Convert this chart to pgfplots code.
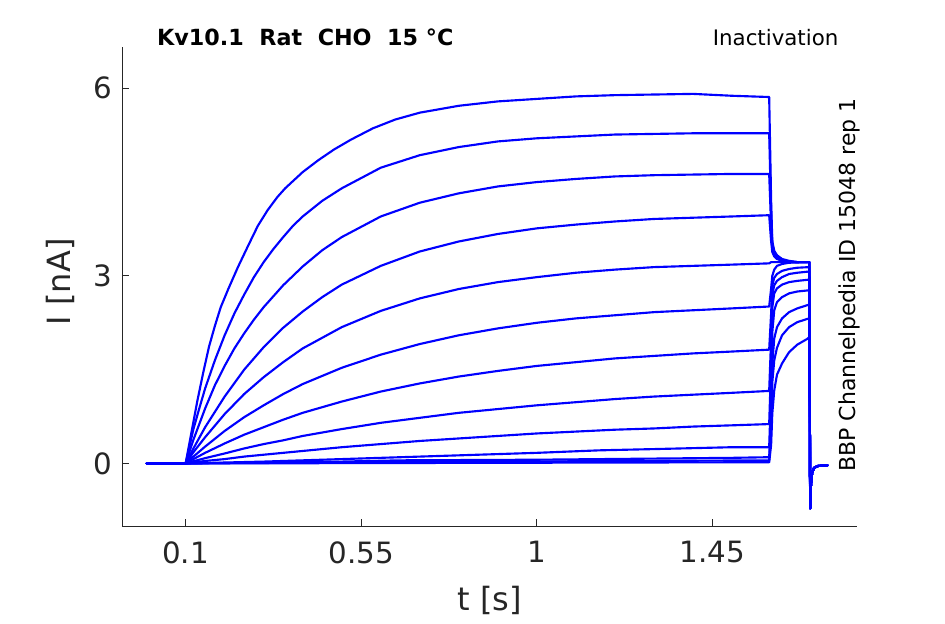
\documentclass[border=0pt]{standalone}
\usepackage{fontspec}
\setmainfont{DejaVu Sans}
\usepackage{pgfplots}
\pgfplotsset{compat=1.18}
\definecolor{axgray}{RGB}{38,38,38}
\tikzset{tr/.style={color=blue, solid, line width=1.6pt, line join=round, line cap=round, mark=none}}
\begin{document}
\begin{tikzpicture}[x=1pt,y=1pt]
\begin{axis}[
  name=ax,
  scale only axis,
  width=551.25pt, height=359.25pt,
  xmin=-0.063, xmax=1.82, ymin=-1, ymax=6.66,
  axis lines*=left,
  axis line style={axgray, line width=0.7pt},
  tick style={axgray, line width=0.7pt},
  tick align=inside,
  major tick length=5.25pt,
  xtick={0.1,0.55,1,1.45}, xticklabels={0.1,0.55,1,1.45},
  ytick={0,3,6}, yticklabels={0,3,6},
  /pgf/number format/assume math mode=true,
  ticklabel style={font=\fontsize{22}{26}\selectfont, text=axgray},
  xticklabel style={yshift=-8pt},
  yticklabel style={xshift=-4pt},
  clip=false,
]
% trace 1
\addplot[tr] coordinates {(0,0) (0.1,0) (0.115,0.5) (0.13,1.0) (0.145,1.45) (0.16,1.87) (0.175,2.2) (0.19,2.5) (0.21,2.8) (0.234,3.14) (0.26,3.48) (0.285,3.8) (0.31,4.05) (0.335,4.26) (0.355,4.4) (0.4,4.66) (0.44,4.85) (0.48,5.02) (0.524,5.18) (0.58,5.36) (0.637,5.5) (0.7,5.61) (0.8,5.72) (0.9,5.79) (1.0,5.83) (1.1,5.87) (1.2,5.89) (1.3,5.9) (1.4,5.91) (1.5,5.88) (1.595,5.86) (1.600,4.2) (1.603,3.55) (1.608,3.4) (1.615,3.33) (1.628,3.27) (1.646,3.24) (1.667,3.22) (1.698,3.22) (1.700,-0.72) (1.702,-0.35) (1.705,-0.15) (1.71,-0.07) (1.72,-0.04) (1.745,-0.03)};
% trace 2
\addplot[tr] coordinates {(0,0) (0.1,0) (0.12,0.55) (0.135,0.88) (0.15,1.2) (0.175,1.65) (0.2,2.05) (0.225,2.4) (0.25,2.7) (0.275,2.98) (0.3,3.22) (0.325,3.43) (0.35,3.62) (0.375,3.8) (0.4,3.95) (0.45,4.2) (0.5,4.4) (0.6,4.73) (0.7,4.93) (0.8,5.06) (0.9,5.15) (1.0,5.2) (1.1,5.23) (1.2,5.26) (1.3,5.27) (1.4,5.28) (1.5,5.28) (1.595,5.28) (1.600,4.0) (1.603,3.52) (1.608,3.38) (1.615,3.32) (1.628,3.26) (1.646,3.23) (1.667,3.22) (1.698,3.22) (1.700,-0.72) (1.702,-0.35) (1.705,-0.15) (1.71,-0.07) (1.72,-0.04) (1.745,-0.03)};
% trace 3
\addplot[tr] coordinates {(0,0) (0.1,0) (0.12,0.38) (0.15,0.88) (0.175,1.25) (0.2,1.56) (0.225,1.84) (0.25,2.08) (0.275,2.3) (0.3,2.5) (0.35,2.85) (0.4,3.15) (0.45,3.41) (0.5,3.62) (0.6,3.95) (0.7,4.17) (0.8,4.32) (0.9,4.43) (1.0,4.5) (1.1,4.55) (1.2,4.59) (1.3,4.61) (1.4,4.62) (1.5,4.63) (1.595,4.63) (1.600,3.8) (1.603,3.45) (1.608,3.35) (1.615,3.3) (1.628,3.25) (1.646,3.23) (1.667,3.22) (1.698,3.22) (1.700,-0.72) (1.702,-0.35) (1.705,-0.15) (1.71,-0.07) (1.72,-0.04) (1.745,-0.03)};
% trace 4
\addplot[tr] coordinates {(0,0) (0.1,0) (0.12,0.24) (0.15,0.58) (0.2,1.07) (0.25,1.5) (0.3,1.86) (0.35,2.17) (0.4,2.43) (0.45,2.66) (0.5,2.86) (0.6,3.16) (0.7,3.39) (0.8,3.55) (0.9,3.67) (1.0,3.76) (1.1,3.82) (1.2,3.87) (1.3,3.91) (1.4,3.93) (1.5,3.95) (1.595,3.97) (1.600,3.55) (1.603,3.38) (1.608,3.31) (1.615,3.27) (1.628,3.24) (1.646,3.22) (1.698,3.22) (1.700,-0.72) (1.702,-0.35) (1.705,-0.15) (1.71,-0.07) (1.72,-0.04) (1.745,-0.03)};
% trace 5
\addplot[tr] coordinates {(0,0) (0.1,0) (0.12,0.18) (0.15,0.42) (0.2,0.79) (0.25,1.11) (0.3,1.38) (0.35,1.62) (0.4,1.84) (0.5,2.18) (0.6,2.44) (0.7,2.64) (0.8,2.79) (0.9,2.9) (1.0,2.98) (1.1,3.05) (1.2,3.1) (1.3,3.14) (1.4,3.16) (1.5,3.18) (1.595,3.2) (1.600,3.22) (1.698,3.22) (1.700,-0.72) (1.702,-0.35) (1.705,-0.15) (1.71,-0.07) (1.72,-0.04) (1.745,-0.03)};
% trace 6
\addplot[tr] coordinates {(0,0) (0.1,0) (0.12,0.11) (0.15,0.27) (0.2,0.52) (0.25,0.74) (0.3,0.93) (0.35,1.11) (0.4,1.27) (0.5,1.53) (0.6,1.74) (0.7,1.91) (0.8,2.05) (0.9,2.16) (1.0,2.25) (1.1,2.32) (1.2,2.37) (1.3,2.42) (1.4,2.45) (1.5,2.48) (1.595,2.51) (1.600,2.8) (1.603,3.0) (1.608,3.1) (1.615,3.16) (1.628,3.19) (1.646,3.21) (1.698,3.22) (1.700,-0.72) (1.702,-0.35) (1.705,-0.15) (1.71,-0.07) (1.72,-0.04) (1.745,-0.03)};
% trace 7
\addplot[tr] coordinates {(0,0) (0.1,0) (0.12,0.07) (0.15,0.17) (0.2,0.32) (0.25,0.46) (0.3,0.58) (0.35,0.7) (0.4,0.81) (0.5,0.99) (0.6,1.15) (0.7,1.28) (0.8,1.39) (0.9,1.48) (1.0,1.56) (1.1,1.62) (1.2,1.68) (1.3,1.72) (1.4,1.76) (1.5,1.79) (1.595,1.82) (1.600,2.4) (1.603,2.85) (1.608,2.97) (1.615,3.03) (1.628,3.08) (1.646,3.11) (1.667,3.13) (1.698,3.14) (1.700,-0.72) (1.702,-0.35) (1.705,-0.15) (1.71,-0.07) (1.72,-0.04) (1.745,-0.03)};
% trace 8
\addplot[tr] coordinates {(0,0) (0.1,0) (0.12,0.035) (0.15,0.085) (0.2,0.16) (0.25,0.24) (0.3,0.31) (0.35,0.37) (0.4,0.44) (0.5,0.55) (0.6,0.65) (0.7,0.73) (0.8,0.81) (0.9,0.87) (1.0,0.93) (1.1,0.98) (1.2,1.03) (1.3,1.07) (1.4,1.1) (1.5,1.13) (1.595,1.16) (1.600,2.0) (1.603,2.7) (1.608,2.85) (1.615,2.92) (1.628,2.98) (1.646,3.03) (1.667,3.05) (1.698,3.07) (1.700,-0.72) (1.702,-0.35) (1.705,-0.15) (1.71,-0.07) (1.72,-0.04) (1.745,-0.03)};
% trace 9
\addplot[tr] coordinates {(0,0) (0.1,0) (0.15,0.04) (0.2,0.07) (0.25,0.11) (0.3,0.14) (0.35,0.17) (0.4,0.2) (0.5,0.26) (0.6,0.31) (0.7,0.36) (0.8,0.4) (0.9,0.44) (1.0,0.48) (1.1,0.51) (1.2,0.54) (1.3,0.56) (1.4,0.59) (1.5,0.61) (1.595,0.63) (1.600,1.6) (1.603,2.5) (1.608,2.72) (1.615,2.8) (1.628,2.86) (1.646,2.9) (1.667,2.92) (1.698,2.94) (1.700,-0.72) (1.702,-0.35) (1.705,-0.15) (1.71,-0.07) (1.72,-0.04) (1.745,-0.03)};
% trace 10
\addplot[tr] coordinates {(0,0) (0.1,0) (0.3,0.03) (0.5,0.07) (0.65,0.1) (0.8,0.13) (1.0,0.17) (1.16,0.21) (1.3,0.23) (1.5,0.26) (1.595,0.26) (1.600,1.2) (1.603,2.1) (1.608,2.45) (1.615,2.58) (1.628,2.66) (1.646,2.72) (1.667,2.75) (1.698,2.77) (1.700,-0.72) (1.702,-0.35) (1.705,-0.15) (1.71,-0.07) (1.72,-0.04) (1.745,-0.03)};
% trace 11
\addplot[tr] coordinates {(0,0) (0.1,0) (0.5,0.03) (0.65,0.05) (1.0,0.06) (1.5,0.09) (1.595,0.1) (1.600,0.8) (1.603,1.6) (1.608,2.0) (1.615,2.18) (1.628,2.32) (1.646,2.42) (1.667,2.48) (1.692,2.53) (1.698,2.54) (1.700,-0.72) (1.702,-0.35) (1.705,-0.15) (1.71,-0.07) (1.72,-0.04) (1.745,-0.03)};
% trace 12
\addplot[tr] coordinates {(0,0) (0.1,0) (0.6,0.02) (1.595,0.05) (1.600,0.5) (1.603,1.3) (1.608,1.65) (1.615,1.85) (1.628,2.05) (1.646,2.18) (1.667,2.26) (1.692,2.31) (1.698,2.32) (1.700,-0.72) (1.702,-0.35) (1.705,-0.15) (1.71,-0.07) (1.72,-0.04) (1.745,-0.03)};
% trace 13
\addplot[tr] coordinates {(0,0) (0.1,0) (1.595,0.02) (1.600,0.3) (1.603,0.8) (1.608,1.17) (1.615,1.42) (1.628,1.6) (1.646,1.78) (1.667,1.9) (1.692,1.99) (1.698,2.02) (1.700,-0.72) (1.702,-0.35) (1.705,-0.15) (1.71,-0.07) (1.72,-0.04) (1.745,-0.03)};

\node[anchor=west, font=\fontsize{16.7}{19}\selectfont\bfseries, text=black] at (rel axis cs:0.0415,1.0198) {Kv10.1\ \ Rat\ \ CHO\ \ 15 °C};
\node[anchor=east, font=\fontsize{16}{19}\selectfont, text=black] at (rel axis cs:0.981,1.0198) {Inactivation};
\node[rotate=90, font=\fontsize{16.5}{19}\selectfont, text=black] at (rel axis cs:0.990,0.503) {BBP Channelpedia ID 15048 rep 1};
\node[font=\fontsize{24}{28}\selectfont, text=axgray] at (rel axis cs:0.5,-0.1545) {t [s]};
\node[rotate=90, font=\fontsize{24}{28}\selectfont, text=axgray] at (rel axis cs:-0.0837,0.51) {I [nA]};
\coordinate (bbll) at (rel axis cs:-0.16599,-0.20459);
\coordinate (bbur) at (rel axis cs:1.11973,1.09812);
\end{axis}
\pgfresetboundingbox
\path (bbll) rectangle (bbur);
\end{tikzpicture}
\end{document}
